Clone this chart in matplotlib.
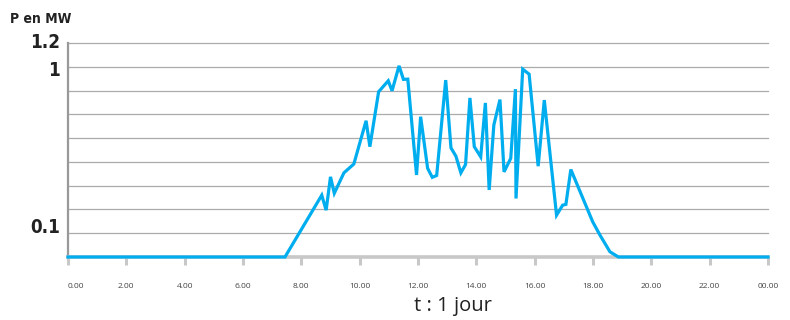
import matplotlib.pyplot as plt

# Production over one day, levels read in grid steps (0 = baseline, 9 = top line)
hours = [0, 7.44, 8.70, 8.85, 9.00, 9.13, 9.46, 9.80, 10.22, 10.35, 10.65, 10.98,
         11.11, 11.35, 11.50, 11.65, 11.95, 12.09, 12.33, 12.49, 12.64, 12.95,
         13.13, 13.30, 13.47, 13.63, 13.78, 13.93, 14.15, 14.31, 14.44, 14.60,
         14.81, 14.95, 15.18, 15.34, 15.36, 15.59, 15.81, 16.12, 16.33, 16.75,
         16.96, 17.07, 17.24, 17.99, 18.24, 18.58, 18.87, 24]
levels = [0, 0, 2.60, 1.97, 3.37, 2.68, 3.54, 3.91, 5.73, 4.64, 6.95, 7.41,
          6.99, 8.04, 7.47, 7.48, 3.45, 5.90, 3.73, 3.35, 3.43, 7.44,
          4.59, 4.24, 3.54, 3.89, 6.69, 4.64, 4.21, 6.48, 2.82, 5.55,
          6.62, 3.58, 4.15, 7.06, 2.46, 7.90, 7.69, 3.82, 6.60, 1.76,
          2.18, 2.21, 3.68, 1.48, 0.92, 0.22, 0, 0]

x_ticks = list(range(0, 25, 2))
x_labels = ['0.00', '2.00', '4.00', '6.00', '8.00', '10.00', '12.00', '14.00',
            '16.00', '18.00', '20.00', '22.00', '00.00']
y_labels = ['0.1', '1', '1.2']
y_label_pos = [1.24, 7.86, 9.03]

BLUE = '#00aeef'
GRID = '#ababab'
LIGHT = '#c8c8c8'

fig = plt.figure(figsize=(7.9, 3.2), dpi=100)
ax = fig.add_axes([68/790, 63/320, 700/790, 214/320])

ax.plot(hours, levels, color=BLUE, lw=2.3, solid_joinstyle='miter',
        clip_on=False, zorder=4)

ax.set_xlim(0, 24)
ax.set_ylim(0, 9)
ax.set_yticks(range(1, 10))
ax.set_yticklabels([])
ax.tick_params(axis='y', length=0)
ax.grid(axis='y', color=GRID, lw=0.9)
ax.set_axisbelow(True)
for yl in ax.get_ygridlines():
    yl.set_clip_on(False)

ax.set_xticks(x_ticks)
ax.set_xticklabels(x_labels, fontsize=6, color='#444444', family='Open Sans')
ax.get_xticklabels()[0].set_ha('left')
ax.tick_params(axis='x', length=6, width=2.2, color=LIGHT, pad=13)

for s in ['top', 'right']:
    ax.spines[s].set_visible(False)
ax.spines['left'].set_color('#999999')
ax.spines['left'].set_linewidth(1.6)
ax.spines['bottom'].set_color(LIGHT)
ax.spines['bottom'].set_linewidth(2.6)

for lab, yp in zip(y_labels, y_label_pos):
    ax.text(-0.011, yp, lab, transform=ax.get_yaxis_transform(), ha='right',
            va='center', fontsize=13.5, fontweight='bold', family='DejaVu Sans',
            fontstretch='condensed', color='#222222')

fig.text(10/790, 1 - 19/320, 'P en MW', ha='left', va='center', fontsize=10,
         fontweight='bold', family='DejaVu Sans', fontstretch='condensed',
         color='#222222')
fig.text(453/790, 1 - 306/320, 't : 1 jour', ha='center', va='center',
         fontsize=14.5, family='Open Sans', color='#222222')

fig.savefig('out.png', dpi=100)
